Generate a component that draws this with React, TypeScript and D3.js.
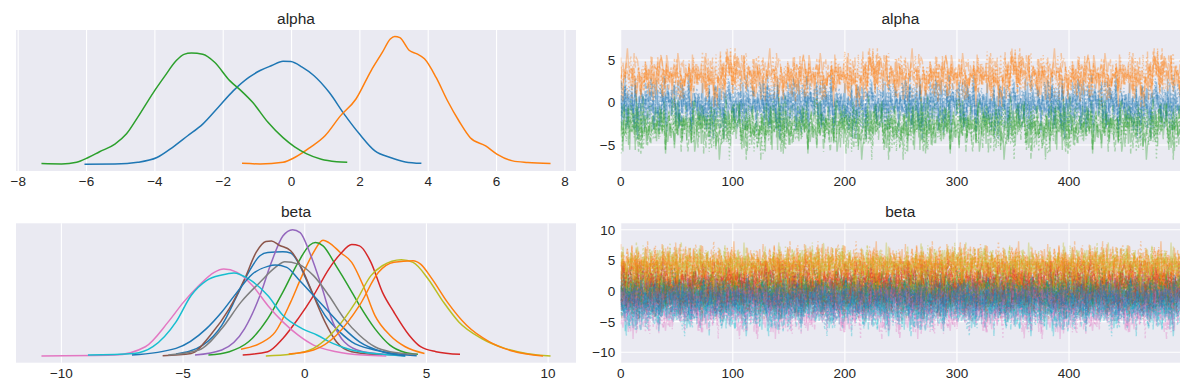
import React from 'react';
import * as d3 from 'd3';

// tab10 cycle used by ArviZ
const COLORS = ['#1f77b4', '#ff7f0e', '#2ca02c', '#d62728', '#9467bd', '#8c564b', '#e377c2', '#7f7f7f', '#bcbd22', '#17becf'];
// one line style per chain: solid, dashed, dotted, dash-dot
const CHAIN_DASH = ['', '5.5,2.4', '1.5,2.5', '9.6,2.4,1.5,2.4'];

const N_DRAWS = 500;
const N_CHAINS = 4;

// KDE curves: [value, density scaled to the tallest curve of the panel]
const ALPHA_0_KDE = [[-6.06, 0.003], [-5.17, 0.005], [-4.5, 0.018], [-3.94, 0.055], [-3.49, 0.133], [-3.04, 0.225], [-2.6, 0.316], [-2.15, 0.446], [-1.7, 0.577], [-1.25, 0.68], [-0.92, 0.734], [-0.58, 0.773], [-0.25, 0.807], [-0.02, 0.804], [0.31, 0.76], [0.65, 0.695], [1.1, 0.564], [1.54, 0.394], [1.99, 0.238], [2.44, 0.107], [2.89, 0.055], [3.33, 0.021], [3.8, 0.01]];
const ALPHA_1_KDE = [[-1.45, 0.01], [-0.92, 0.005], [-0.25, 0.018], [0.09, 0.055], [0.54, 0.133], [0.98, 0.225], [1.43, 0.38], [1.88, 0.51], [2.33, 0.734], [2.66, 0.877], [2.89, 0.98], [3.02, 1.0], [3.17, 0.99], [3.45, 0.89], [3.67, 0.864], [3.89, 0.825], [4.23, 0.68], [4.56, 0.5], [4.9, 0.34], [5.23, 0.21], [5.68, 0.146], [6.02, 0.08], [6.47, 0.029], [6.91, 0.016], [7.58, 0.008]];
const ALPHA_2_KDE = [[-7.32, 0.008], [-6.73, 0.005], [-6.29, 0.018], [-5.95, 0.055], [-5.62, 0.1], [-5.17, 0.16], [-4.83, 0.24], [-4.5, 0.37], [-4.05, 0.56], [-3.71, 0.69], [-3.38, 0.81], [-3.15, 0.86], [-2.93, 0.87], [-2.6, 0.86], [-2.26, 0.8], [-1.81, 0.655], [-1.48, 0.577], [-1.14, 0.486], [-0.69, 0.33], [-0.25, 0.21], [0.09, 0.138], [0.43, 0.086], [0.87, 0.042], [1.32, 0.023], [1.63, 0.018]];

const BETA_0_KDE = [[-5.29, 0.018], [-4.19, 0.089], [-3.41, 0.245], [-2.78, 0.48], [-2.31, 0.663], [-1.84, 0.794], [-1.52, 0.82], [-0.9, 0.825], [-0.58, 0.815], [-0.27, 0.742], [0.05, 0.611], [0.36, 0.48], [0.83, 0.324], [1.3, 0.219], [1.93, 0.115], [2.88, 0.05], [4.6, 0.005]];
const BETA_1_KDE = [[-2.62, 0.057], [-1.84, 0.102], [-1.21, 0.193], [-0.58, 0.428], [-0.11, 0.637], [0.36, 0.82], [0.75, 0.916], [0.99, 0.898], [1.46, 0.82], [1.93, 0.742], [2.4, 0.559], [2.88, 0.324], [3.5, 0.167], [4.13, 0.076], [4.92, 0.023]];
const BETA_2_KDE = [[-3.96, 0.01], [-3.1, 0.037], [-2.31, 0.115], [-1.52, 0.298], [-0.9, 0.507], [-0.27, 0.742], [0.2, 0.877], [0.44, 0.898], [0.75, 0.872], [1.3, 0.71], [1.78, 0.559], [2.25, 0.402], [2.88, 0.219], [3.5, 0.089], [4.13, 0.031], [4.65, 0.016]];
const BETA_3_KDE = [[-2.55, 0.01], [-1.52, 0.037], [-0.9, 0.141], [-0.27, 0.298], [0.36, 0.48], [0.99, 0.689], [1.46, 0.807], [1.93, 0.883], [2.25, 0.872], [2.72, 0.742], [3.19, 0.507], [3.66, 0.35], [4.29, 0.167], [4.76, 0.076], [5.39, 0.037], [6.38, 0.016]];
const BETA_4_KDE = [[-4.51, 0.01], [-3.41, 0.05], [-2.47, 0.219], [-1.84, 0.48], [-1.37, 0.742], [-0.9, 0.95], [-0.5, 1.0], [-0.19, 0.977], [0.2, 0.82], [0.68, 0.559], [1.15, 0.272], [1.62, 0.115], [2.4, 0.037], [4.13, 0.005]];
const BETA_5_KDE = [[-5.84, 0.005], [-4.67, 0.023], [-3.88, 0.167], [-3.1, 0.376], [-2.47, 0.611], [-2.0, 0.82], [-1.6, 0.906], [-1.37, 0.911], [-1.05, 0.877], [-0.58, 0.833], [-0.11, 0.689], [0.36, 0.48], [0.83, 0.272], [1.3, 0.115], [1.93, 0.037], [3.19, 0.01]];
const BETA_6_KDE = [[-10.82, 0.003], [-7.81, 0.01], [-6.55, 0.076], [-5.61, 0.272], [-4.98, 0.428], [-4.35, 0.559], [-3.72, 0.663], [-3.33, 0.689], [-2.78, 0.663], [-2.15, 0.559], [-1.52, 0.402], [-0.9, 0.272], [-0.27, 0.167], [0.36, 0.089], [1.3, 0.037], [2.4, 0.01], [3.35, 0.003]];
const BETA_7_KDE = [[-5.61, 0.01], [-4.35, 0.05], [-3.41, 0.219], [-2.62, 0.428], [-1.84, 0.585], [-1.21, 0.702], [-0.82, 0.747], [-0.27, 0.728], [0.36, 0.637], [0.99, 0.48], [1.62, 0.298], [2.25, 0.167], [2.88, 0.076], [3.5, 0.037], [4.6, 0.016]];
const BETA_8_KDE = [[-1.6, 0.003], [-0.58, 0.016], [0.36, 0.063], [1.3, 0.219], [2.09, 0.428], [2.72, 0.637], [3.19, 0.715], [3.97, 0.762], [4.45, 0.742], [5.07, 0.611], [5.7, 0.428], [6.33, 0.272], [7.27, 0.141], [8.22, 0.063], [9.16, 0.021], [10.1, 0.003]];
const BETA_9_KDE = [[-8.91, 0.01], [-7.02, 0.023], [-6.24, 0.076], [-5.29, 0.272], [-4.67, 0.48], [-4.04, 0.598], [-3.41, 0.642], [-2.91, 0.658], [-2.31, 0.611], [-1.52, 0.48], [-0.9, 0.324], [-0.11, 0.219], [0.52, 0.167], [1.15, 0.102], [1.93, 0.05], [3.19, 0.016], [4.13, 0.003]];
const BETA_10_KDE = [[-7.1, 0.01], [-5.29, 0.063], [-4.04, 0.219], [-3.41, 0.35], [-2.78, 0.507], [-2.15, 0.65], [-1.52, 0.71], [-1.21, 0.721], [-0.74, 0.702], [-0.27, 0.611], [0.36, 0.48], [0.99, 0.35], [1.62, 0.219], [2.25, 0.115], [3.19, 0.037], [4.13, 0.005]];
const BETA_11_KDE = [[-0.66, 0.018], [0.36, 0.05], [1.3, 0.167], [2.25, 0.402], [3.03, 0.663], [3.66, 0.742], [4.45, 0.755], [4.76, 0.728], [5.23, 0.611], [5.86, 0.428], [6.65, 0.245], [7.59, 0.115], [8.53, 0.042], [9.79, 0.003]];

const ALPHA_KDES = [ALPHA_0_KDE, ALPHA_1_KDE, ALPHA_2_KDE];
const BETA_KDES = [BETA_0_KDE, BETA_1_KDE, BETA_2_KDE, BETA_3_KDE, BETA_4_KDE, BETA_5_KDE, BETA_6_KDE, BETA_7_KDE, BETA_8_KDE, BETA_9_KDE, BETA_10_KDE, BETA_11_KDE];

const ALPHA_MEAN = [-0.3, 3.1, -2.8];
const ALPHA_SD = [1.35, 1.25, 1.35];
const BETA_MEAN = [-1.1, 0.8, 0.45, 1.9, -0.5, -1.4, -3.3, -0.8, 4.0, -3.0, -1.2, 4.3];
const BETA_SD = [1.2, 1.2, 1.3, 1.3, 1.0, 1.1, 1.55, 1.45, 1.5, 1.5, 1.45, 1.45];

// hand-typed standardised draw deviations, reused by every chain at its own offset
const SHOCKS = [
  0.42, -1.13, 0.27, 1.58, -0.64, -0.08, 0.91, -2.04, 0.35, -0.47,
  1.22, -0.95, 0.13, 2.31, -0.29, -1.61, 0.74, 0.05, -0.83, 1.07,
  -0.18, -2.22, 0.59, 0.96, -0.37, 1.84, -1.26, 0.21, -0.55, 0.68,
  -1.42, 0.09, 2.17, -0.71, 0.33, -0.12, -1.89, 1.36, 0.48, -0.26,
  0.81, -2.38, 0.17, 1.12, -0.58, -0.94, 0.62, 0.01, 1.71, -1.05,
  -0.33, 0.29, -2.06, 0.87, 0.44, -0.69, 1.49, -0.15, 0.72, -1.37,
  0.24, 2.62, -0.88, -0.21, 0.56, -1.74, 1.03, 0.11, -0.49, 0.93,
  -1.18, 0.38, -0.04, 1.89, -0.77, -1.53, 0.66, 0.19, -0.31, 1.27,
  -2.19, 0.51, 0.78, -0.62, 1.75, -0.09, -1.01, 0.31, -0.41, 1.41,
  -0.86, 0.15, -2.91, 0.99, 0.46, -0.24, -1.31, 2.03, 0.07, -0.73,
  0.83, -1.66, 0.26, 0.6, -0.52, 1.16, -0.98, 0.36, -0.19, 1.98,
  -1.22, 0.03, 0.71, -1.91, 1.33, -0.44, 0.12, -0.8, 1.62, -0.35,
  0.53, -1.47, 0.89, 0.22, -0.66, 1.79, -0.06,
];

const KDE_TICKS_ALPHA = [-8, -6, -4, -2, 0, 2, 4, 6, 8];
const KDE_TICKS_BETA = [-10, -5, 0, 5, 10];
const DRAW_TICKS = [0, 100, 200, 300, 400];
const TRACE_TICKS_ALPHA = [-5, 0, 5];
const TRACE_TICKS_BETA = [-10, -5, 0, 5, 10];

const FONT = '"Liberation Sans", Arial, sans-serif';
const TEXT = '#262626';
const FACE = '#eaeaf2';
const TICK_SIZE = 13.5;
const TITLE_SIZE = 15.5;

interface Box { x0: number; x1: number; y0: number; y1: number }

const LEFT = { x0: 16, x1: 576 };
const RIGHT = { x0: 620.7, x1: 1180 };
const TOP = { y0: 30, y1: 171 };
const BOTTOM = { y0: 223.3, y1: 362.7 };

const KdeAxes: React.FC<{ box: Box; title: string; curves: number[][][]; ticks: number[] }> = ({ box, title, curves, ticks }) => {
  const all = curves.flat().map(d => d[0]);
  const [lo, hi] = d3.extent(all) as [number, number];
  const pad = (hi - lo) * 0.05;
  const x = d3.scaleLinear().domain([lo - pad, hi + pad]).range([box.x0, box.x1]);
  const y = d3.scaleLinear().domain([-0.05, 1.05]).range([box.y1, box.y0]);
  const line = d3.line<number[]>().x(d => x(d[0])).y(d => y(d[1])).curve(d3.curveMonotoneX);
  const fmt = d3.format('d');
  return (
    <g>
      <rect x={box.x0} y={box.y0} width={box.x1 - box.x0} height={box.y1 - box.y0} fill={FACE} />
      {ticks.map(t => (
        <line key={t} x1={x(t)} x2={x(t)} y1={box.y0} y2={box.y1} stroke="#fff" strokeWidth={1.1} />
      ))}
      {curves.map((c, i) => (
        <path key={i} d={line(c) || ''} fill="none" stroke={COLORS[i % COLORS.length]} strokeWidth={1.5} />
      ))}
      {ticks.map(t => (
        <text key={'l' + t} x={x(t)} y={box.y1 + 15} textAnchor="middle" fontSize={TICK_SIZE} fill={TEXT}>{fmt(t)}</text>
      ))}
      <text x={(box.x0 + box.x1) / 2} y={box.y0 - 6.5} textAnchor="middle" fontSize={TITLE_SIZE} fill={TEXT}>{title}</text>
    </g>
  );
};

const TraceAxes: React.FC<{ box: Box; title: string; means: number[]; sds: number[]; yDomain: [number, number]; yTicks: number[]; id: string }> = ({ box, title, means, sds, yDomain, yTicks, id }) => {
  const x = d3.scaleLinear().domain([0, N_DRAWS - 1]).range([box.x0, box.x1]);
  const y = d3.scaleLinear().domain(yDomain).range([box.y1, box.y0]);
  const line = d3.line<number>().x((_, i) => x(i)).y(d => y(d));
  const fmt = d3.format('d');
  const n = SHOCKS.length;

  const paths: React.ReactNode[] = [];
  for (let c = 0; c < N_CHAINS; c++) {
    means.forEach((m, v) => {
      const stride = 1 + ((v * 4 + c) % 11);
      const offset = (v * 31 + c * 53) % n;
      const draws = d3.range(N_DRAWS).map(i => m + sds[v] * SHOCKS[(i * stride + offset) % n]);
      paths.push(
        <path key={c + '-' + v} d={line(draws) || ''} fill="none" stroke={COLORS[v % COLORS.length]}
          strokeOpacity={0.35} strokeWidth={1.4} strokeDasharray={CHAIN_DASH[c] || undefined} />
      );
    });
  }

  return (
    <g>
      <defs>
        <clipPath id={id}>
          <rect x={box.x0} y={box.y0} width={box.x1 - box.x0} height={box.y1 - box.y0} />
        </clipPath>
      </defs>
      <rect x={box.x0} y={box.y0} width={box.x1 - box.x0} height={box.y1 - box.y0} fill={FACE} />
      {DRAW_TICKS.map(t => (
        <line key={'gx' + t} x1={x(t)} x2={x(t)} y1={box.y0} y2={box.y1} stroke="#fff" strokeWidth={1.1} />
      ))}
      {yTicks.map(t => (
        <line key={'gy' + t} x1={box.x0} x2={box.x1} y1={y(t)} y2={y(t)} stroke="#fff" strokeWidth={1.1} />
      ))}
      <g clipPath={`url(#${id})`}>{paths}</g>
      {DRAW_TICKS.map(t => (
        <text key={'lx' + t} x={x(t)} y={box.y1 + 15} textAnchor="middle" fontSize={TICK_SIZE} fill={TEXT}>{fmt(t)}</text>
      ))}
      {yTicks.map(t => (
        <text key={'ly' + t} x={box.x0 - 5.5} y={y(t)} dy="0.36em" textAnchor="end" fontSize={TICK_SIZE} fill={TEXT}>{fmt(t)}</text>
      ))}
      <text x={(box.x0 + box.x1) / 2} y={box.y0 - 6.5} textAnchor="middle" fontSize={TITLE_SIZE} fill={TEXT}>{title}</text>
    </g>
  );
};

const App: React.FC = () => {
  return (
    <svg width={1189} height={390} style={{ position: 'absolute', left: 0, top: 0, background: '#fff' }} fontFamily={FONT}>
      <KdeAxes box={{ ...LEFT, ...TOP }} title="alpha" curves={ALPHA_KDES} ticks={KDE_TICKS_ALPHA} />
      <TraceAxes box={{ ...RIGHT, ...TOP }} title="alpha" means={ALPHA_MEAN} sds={ALPHA_SD}
        yDomain={[-8.06, 8.53]} yTicks={TRACE_TICKS_ALPHA} id="clip-alpha" />
      <KdeAxes box={{ ...LEFT, ...BOTTOM }} title="beta" curves={BETA_KDES} ticks={KDE_TICKS_BETA} />
      <TraceAxes box={{ ...RIGHT, ...BOTTOM }} title="beta" means={BETA_MEAN} sds={BETA_SD}
        yDomain={[-11.7, 11.05]} yTicks={TRACE_TICKS_BETA} id="clip-beta" />
    </svg>
  );
};

export default App;
